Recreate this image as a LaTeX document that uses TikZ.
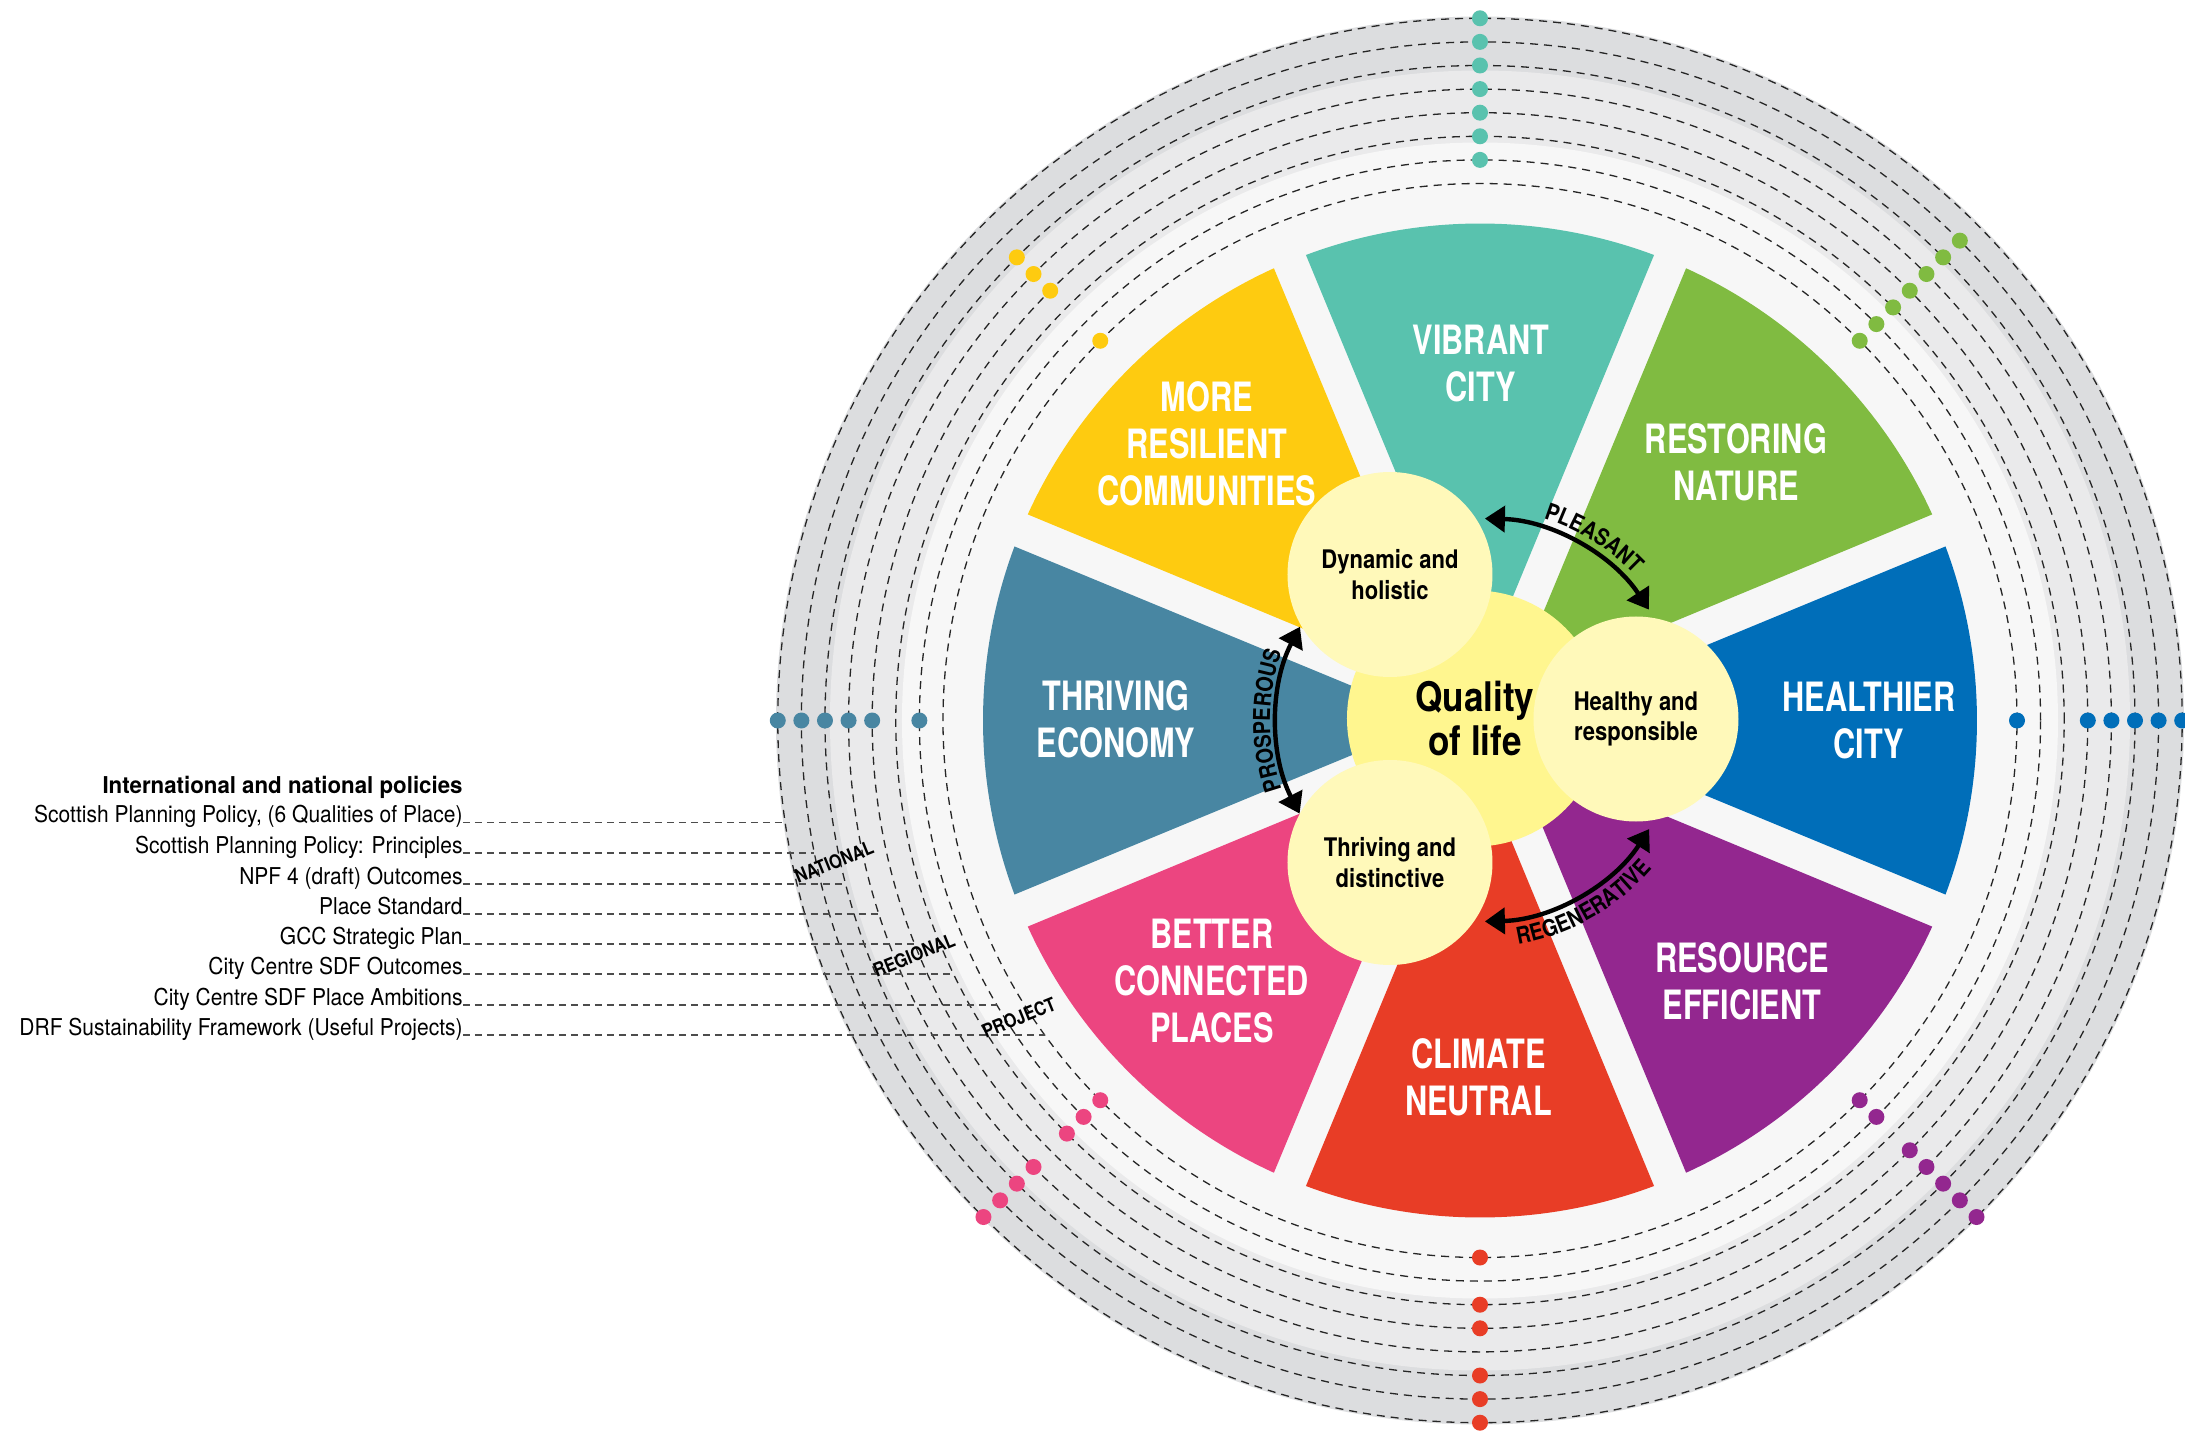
\documentclass[tikz,border=0pt]{standalone}
\usepackage{fontspec}
\setmainfont{TeX Gyre Heros}
\newfontfamily\wedgefont{TeX Gyre Heros}[FakeStretch=0.76]
\newfontfamily\circfont{TeX Gyre Heros}[FakeStretch=0.86]
\newfontfamily\polfont{TeX Gyre Heros}[FakeStretch=0.905]
\newfontfamily\headfont{TeX Gyre Heros}[FakeStretch=0.96]
\usetikzlibrary{arrows.meta,decorations.text}
\definecolor{cvib}{HTML}{59C2AE}
\definecolor{cnat}{HTML}{80BB41}
\definecolor{chea}{HTML}{006EB9}
\definecolor{cres}{HTML}{93278F}
\definecolor{ccli}{HTML}{E83D26}
\definecolor{cbet}{HTML}{EC4580}
\definecolor{cthr}{HTML}{4886A2}
\definecolor{cmor}{HTML}{FECB10}
\definecolor{cq}{HTML}{FFF68F}
\definecolor{cs}{HTML}{FFF9BA}
\definecolor{bandA}{HTML}{F7F7F7}
\definecolor{bandB}{HTML}{EAEAEB}
\definecolor{bandC}{HTML}{DCDDDF}
\newcommand\arcfnt{\circfont\bfseries\fontsize{11.6}{13}\selectfont}
\tikzset{
  wlabel/.style={text=white, font=\wedgefont\bfseries\fontsize{20.2}{23.5}\selectfont, align=center, inner sep=0pt},
  qcirc/.style={circle, fill=cq, minimum size=128pt, inner sep=0pt, align=center, font=\circfont\bfseries\fontsize{20.4}{21.7}\selectfont},
  scirc/.style={circle, fill=cs, minimum size=102.5pt, inner sep=0pt, align=center, font=\circfont\bfseries\fontsize{12.8}{15.3}\selectfont},
  dashring/.style={draw=black!85, line width=0.65pt, dash pattern=on 4pt off 3pt},
  polline/.style={draw=black!70, line width=0.6pt, dash pattern=on 3.5pt off 2.5pt},
  poltext/.style={anchor=base east, inner sep=0pt, font=\polfont\fontsize{11.6}{13}\selectfont},
  polhead/.style={anchor=base east, inner sep=0pt, font=\headfont\bfseries\fontsize{11.6}{13}\selectfont},
  twoway/.style={line width=2.2pt, {Triangle[length=10pt,width=13pt]}-{Triangle[length=10pt,width=13pt]}},
  levellabel/.style={rotate=22, inner sep=0pt, font=\circfont\bfseries\fontsize{9.5}{11}\selectfont},
}
\begin{document}
\begin{tikzpicture}[x=0.5pt,y=0.5pt]
\useasboundingbox (-1480,-709.5) rectangle (705,720.5);
\fill[white] (-1480,-709.5) rectangle (705,720.5);
% background bands
\fill[bandC] (0,0) circle[radius=704];
\fill[bandB] (0,0) circle[radius=650];
\fill[bandA] (0,0) circle[radius=578];
% wedges
\foreach \ang/\col in {90/cvib,45/cnat,0/chea,-45/cres,-90/ccli,-135/cbet,180/cthr,135/cmor}{
  \fill[\col] (\ang:44.4) -- (\ang-20.5:497) arc[start angle=\ang-20.5, end angle=\ang+20.5, radius=497] -- cycle;
}
% dashed rings
\foreach \r in {537,560.6,584.2,607.8,631.4,655,678.6,702.2}{
  \draw[dashring] (0,0) circle[radius=\r];
}
% dots
\foreach \ang/\col/\ks in {90/cvib/{2,3,4,5,6,7,8}, 45/cnat/{1,2,3,4,5,6,7}, 0/chea/{1,4,5,6,7,8}, -45/cres/{1,2,4,5,6,7,8}, -90/ccli/{1,3,4,6,7,8}, -135/cbet/{1,2,3,5,6,7,8}, 180/cthr/{2,4,5,6,7,8}, 135/cmor/{1,4,5,6}}{
  \foreach \k in \ks {
    \fill[\col] (\ang:{537+23.6*(\k-1)}) circle[radius=8];
  }
}
% wedge labels
\node[wlabel] (lvib) at (1,357) {VIBRANT\\CITY};
\node[wlabel] (lnat) at (256,258) {RESTORING\\NATURE};
\node[wlabel] (lhea) at (389,0) {HEALTHIER\\CITY};
\node[wlabel] (lres) at (262,-261) {RESOURCE\\EFFICIENT};
\node[wlabel] (lcli) at (-1.5,-357) {CLIMATE\\NEUTRAL};
\node[wlabel] (lbet) at (-268,-261) {BETTER\\CONNECTED\\PLACES};
\node[wlabel] (lthr) at (-364,1) {THRIVING\\ECONOMY};
\node[wlabel] (lmor) at (-273,277) {MORE\\RESILIENT\\COMMUNITIES};
% centre circles
\node[qcirc] (q) at (-5,2) {Quality\\of life};
\node[scirc] (dyn) at (-90,146) {Dynamic and\\holistic};
\node[scirc] (hea) at (156,1.5) {Healthy and\\responsible};
\node[scirc] (thd) at (-90,-142) {Thriving and\\distinctive};
% arcs with arrows
\draw[twoway] (88.6:202) arc[start angle=88.6, end angle=33.3, radius=202];
\draw[twoway] (152.5:203) arc[start angle=152.5, end angle=207.3, radius=203];
\draw[twoway] (-32.7:201) arc[start angle=-32.7, end angle=-88.6, radius=201];
\path[decorate, decoration={text along path, text align=center, text={|\arcfnt|PLEASANT}}]
  (89:212) arc[start angle=89, end angle=27, radius=212];
\path[decorate, decoration={text along path, text align=center, text={|\arcfnt|PROSPEROUS}}]
  (212:210) arc[start angle=212, end angle=148, radius=210];
\path[decorate, decoration={text along path, text align=center, text={|\arcfnt|REGENERATIVE}}]
  (-96:227) arc[start angle=-96, end angle=-25, radius=227];
% policies
\node[polhead] (ph) at (-1017,-72.8) {International and national policies};
\node[poltext] (p1) at (-1017,-102.2) {Scottish Planning Policy, (6 Qualities of Place)};
\node[poltext] (p2) at (-1017,-132.5) {Scottish Planning Policy: Principles};
\node[poltext] (p3) at (-1017,-163.5) {NPF 4 (draft) Outcomes};
\node[poltext] (p4) at (-1017,-193.5) {Place Standard};
\node[poltext] (p5) at (-1017,-223.5) {GCC Strategic Plan};
\node[poltext] (p6) at (-1017,-253.5) {City Centre SDF Outcomes};
\node[poltext] (p7) at (-1017,-284.5) {City Centre SDF Place Ambitions};
\node[poltext] (p8) at (-1017,-314.5) {DRF Sustainability Framework (Useful Projects)};
\coordinate (e1) at (-694.7,-102.2);
\coordinate (e2) at (-665.5,-132.5);
\coordinate (e3) at (-634.3,-163.5);
\coordinate (e4) at (-601.0,-193.5);
\coordinate (e5) at (-565.2,-223.5);
\coordinate (e6) at (-526.3,-253.5);
\coordinate (e7) at (-483.1,-284.5);
\coordinate (e8) at (-435.3,-314.5);
\foreach \i in {1,...,8}{
  \draw[polline] (p\i.base east) -- (e\i);
}
% level labels
\node[levellabel] (lnational) at (-646,-141.5) {NATIONAL};
\node[levellabel] (lregional) at (-566,-234.5) {REGIONAL};
\node[levellabel] (lproject) at (-461,-297) {PROJECT};
\end{tikzpicture}
\end{document}
